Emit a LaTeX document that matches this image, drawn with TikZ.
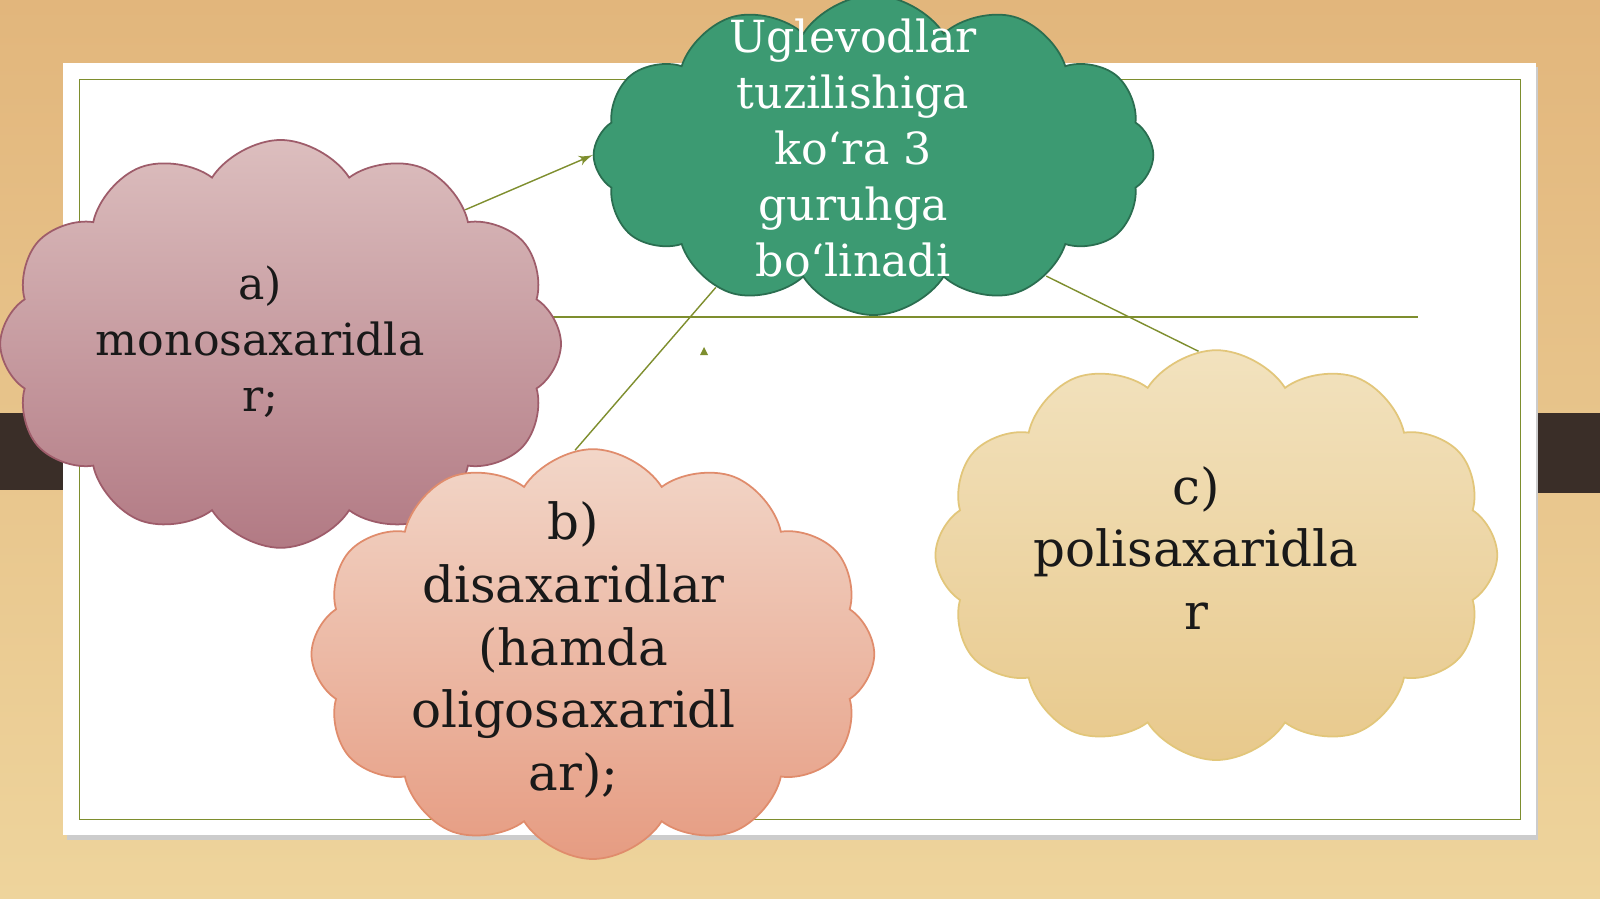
\documentclass[tikz,border=0pt]{standalone}
\usepackage{fontspec}
\setmainfont{DejaVu Serif}
\usepackage{xcolor}
\usetikzlibrary{shapes,arrows}
\definecolor{woodtop}{HTML}{E2B67C}
\definecolor{woodbot}{HTML}{EED49C}
\definecolor{frame}{HTML}{7E8E2E}
\definecolor{bar}{HTML}{3A2E28}
\definecolor{monotop}{HTML}{DCBEBE}
\definecolor{monobot}{HTML}{B27A84}
\definecolor{monoedge}{HTML}{9E5C6A}
\definecolor{ditop}{HTML}{F2D6C8}
\definecolor{dibot}{HTML}{E69C82}
\definecolor{diedge}{HTML}{E08C6C}
\definecolor{politop}{HTML}{F2E2BE}
\definecolor{polibot}{HTML}{E8C98C}
\definecolor{poliedge}{HTML}{E2C67A}
\definecolor{leaf}{HTML}{3C9A72}
\definecolor{leafedge}{HTML}{2A6E50}
\tikzstyle{puff} = [cloud, cloud puffs=12, cloud puff arc=115, aspect=1.4, inner sep=0pt, line width=0.5pt]
\tikzstyle{cloudtext} = [align=center, text=black!90, font=\fontsize{12.6}{15.9}\selectfont]
\tikzstyle{bigtext} = [align=center, text=black!90, font=\fontsize{14.2}{17.9}\selectfont]
\tikzstyle{line} = [draw, frame, line width=0.4pt, -latex']

\begin{document}
\begin{tikzpicture}[x=0.010204cm, y=-0.010204cm]
% background
\shade [top color=woodtop, bottom color=woodbot] (0,0) rectangle (1568,881);
\useasboundingbox (0,0) rectangle (1568,881);
\fill [bar] (0,405) rectangle (80,480);
\fill [bar] (1470,405) rectangle (1568,483);
% paper
\fill [black!20] (66,66) rectangle (1507,823);
\fill [white] (62,62) rectangle (1505,818);
\draw [frame, line width=0.5pt] (78,78) rectangle (1490,803);
\draw [frame, line width=0.5pt] (420,311) -- (1390,311);

% clouds
\node [puff, draw=monoedge, top color=monotop, bottom color=monobot,
  minimum width=5.61cm, minimum height=4.08cm] (mono) at (275,337) {};
\node [puff, draw=diedge, top color=ditop, bottom color=dibot,
  minimum width=5.63cm, minimum height=4.1cm] (di) at (581,641) {};
\node [puff, draw=poliedge, top color=politop, bottom color=polibot,
  minimum width=5.62cm, minimum height=4.1cm] (poli) at (1192,544) {};
\node [puff, draw=leafedge, fill=leaf,
  minimum width=5.6cm, minimum height=3.2cm] (uglev) at (856,152) {};

% texts
\node [cloudtext] (monotxt) at (255,335) {a)\\monosaxaridla\\r;};
\node [bigtext] (ditxt) at (562,637) {b)\\disaxaridlar\\(hamda\\oligosaxaridl\\ar);};
\node [bigtext] (politxt) at (1172,537) {c)\\polisaxaridla\\r};
\node [cloudtext, text=white] (uglevtxt) at (836,145) {Uglevodlar\\tuzilishiga\\ko‘ra 3\\guruhga\\bo‘linadi};

% connectors
\path [line] (mono.36) -- (uglev.180);
\path [line, -] (di.95) -- (uglev.220);
\path [line, -] (uglev.-35) -- (poli.95);
\fill [frame] (686,348) -- (694,348) -- (690,340) -- cycle;
\end{tikzpicture}
\end{document}
